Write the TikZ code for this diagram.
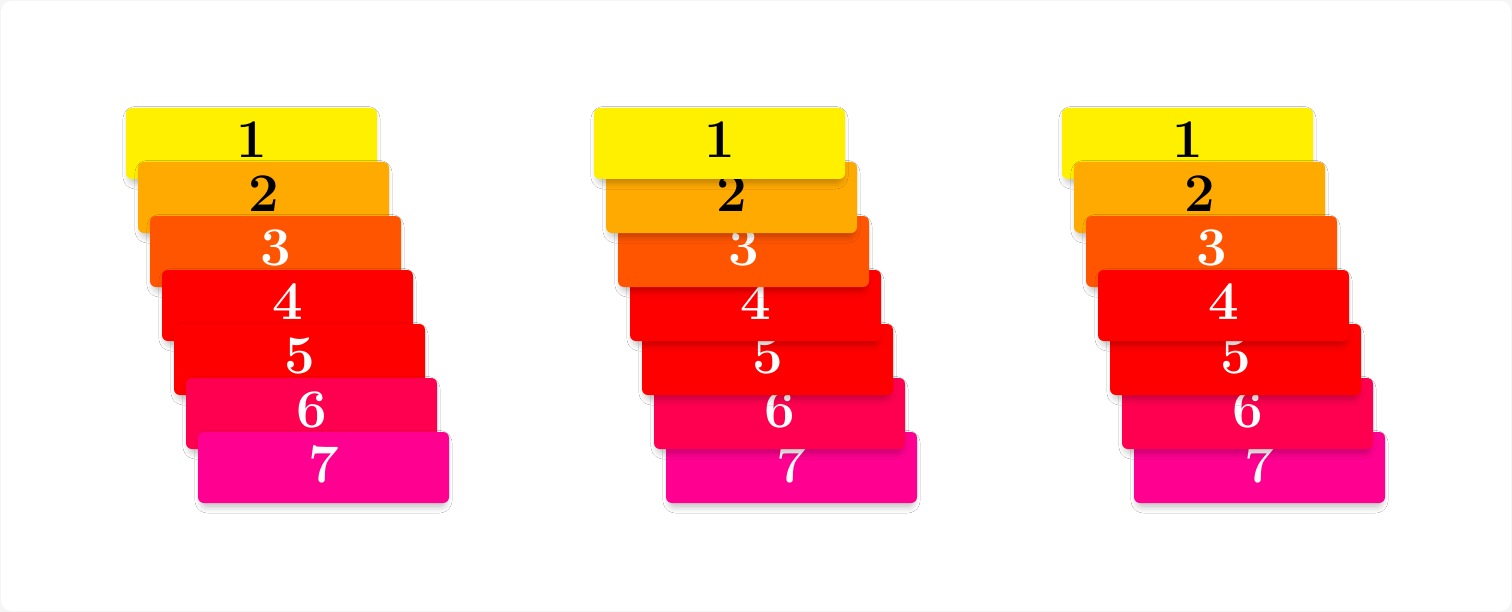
\documentclass[tikz,border=0pt]{standalone}
\definecolor{card1}{RGB}{255, 240, 0}
\definecolor{card2}{RGB}{255, 170, 0}
\definecolor{card3}{RGB}{255, 85, 0}
\definecolor{card4}{RGB}{255, 0, 0}
\definecolor{card5}{RGB}{255, 0, 0}
\definecolor{card6}{RGB}{255, 0, 80}
\definecolor{card7}{RGB}{255, 0, 144}
\usepackage{tikz}
\usetikzlibrary{shadows.blur}

\begin{document}
\begin{tikzpicture}[
  card/.style={rounded corners=3.4pt, minimum width=5.02cm, minimum height=1.42cm, inner sep=0pt,
    font=\fontsize{31}{31}\selectfont\bfseries,
    blur shadow={shadow xshift=0pt, shadow yshift=-2.5pt, shadow blur radius=4pt, shadow blur steps=10, shadow scale=0.97, shadow opacity=28}},
  dark/.style={card, text=black},
  light/.style={card, text=white},
]
% Frame
\fill[black!4] (0,0) rectangle (30.24,-12.24);
\fill[white, rounded corners=6pt] (0.02,-0.02) rectangle (30.22,-12.22);
\useasboundingbox (0,0) rectangle (30.24,-12.24);

% Stack one: each lower card on top
\node[dark, fill=card1] (a1) at (5.03, -2.87) {\raisebox{4pt}{1}};
\node[dark, fill=card2] (a2) at (5.27, -3.95) {\raisebox{4pt}{2}};
\node[light, fill=card3] (a3) at (5.51, -5.03) {\raisebox{4pt}{3}};
\node[light, fill=card4] (a4) at (5.75, -6.11) {\raisebox{4pt}{4}};
\node[light, fill=card5] (a5) at (5.99, -7.19) {\raisebox{4pt}{5}};
\node[light, fill=card6] (a6) at (6.23, -8.27) {\raisebox{4pt}{6}};
\node[light, fill=card7] (a7) at (6.47, -9.35) {\raisebox{4pt}{7}};

% Stack two: each upper card on top
\node[light, fill=card7] (b7) at (15.83, -9.35) {\raisebox{4pt}{7}};
\node[light, fill=card6] (b6) at (15.59, -8.27) {\raisebox{4pt}{6}};
\node[light, fill=card5] (b5) at (15.35, -7.19) {\raisebox{4pt}{5}};
\node[light, fill=card4] (b4) at (15.11, -6.11) {\raisebox{4pt}{4}};
\node[light, fill=card3] (b3) at (14.87, -5.03) {\raisebox{4pt}{3}};
\node[dark, fill=card2] (b2) at (14.63, -3.95) {\raisebox{4pt}{2}};
\node[dark, fill=card1] (b1) at (14.39, -2.87) {\raisebox{4pt}{1}};

% Stack three: card 4 on top of both halves
\node[dark, fill=card1] (c1) at (23.75, -2.87) {\raisebox{4pt}{1}};
\node[dark, fill=card2] (c2) at (23.99, -3.95) {\raisebox{4pt}{2}};
\node[light, fill=card3] (c3) at (24.23, -5.03) {\raisebox{4pt}{3}};
\node[light, fill=card7] (c7) at (25.19, -9.35) {\raisebox{4pt}{7}};
\node[light, fill=card6] (c6) at (24.95, -8.27) {\raisebox{4pt}{6}};
\node[light, fill=card5] (c5) at (24.71, -7.19) {\raisebox{4pt}{5}};
\node[light, fill=card4] (c4) at (24.47, -6.11) {\raisebox{4pt}{4}};
\end{tikzpicture}
\end{document}
